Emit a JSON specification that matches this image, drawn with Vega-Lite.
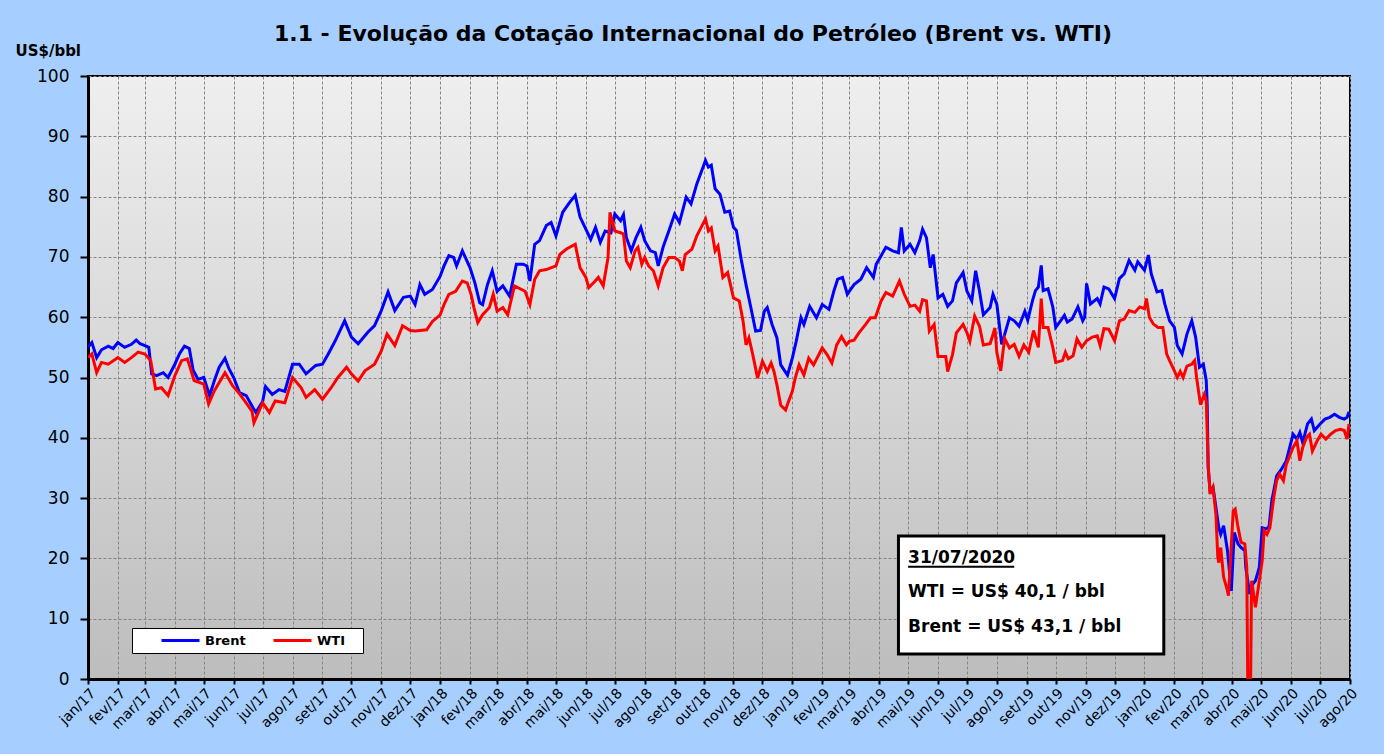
{
  "$schema": "https://vega.github.io/schema/vega-lite/v6.json",
  "width": 1262,
  "height": 603,
  "autosize": {"type": "none"},
  "padding": {"left": 88, "top": 76, "right": 34, "bottom": 75},
  "background": "#A6CFFF",
  "title": {
    "text": "1.1 - Evolução da Cotação Internacional do Petróleo (Brent vs. WTI)",
    "font": "DejaVu Sans",
    "fontSize": 22,
    "fontWeight": "bold",
    "color": "#000000",
    "anchor": "middle",
    "offset": -3,
    "dx": -26
  },
  "config": {
    "font": "DejaVu Sans",
    "view": {
      "stroke": "#000000",
      "strokeWidth": 2,
      "fill": {"gradient": "linear", "x1": 0, "y1": 0, "x2": 0, "y2": 1, "stops": [{"offset": 0, "color": "#EFEFEF"}, {"offset": 1, "color": "#BDBDBD"}]}
    },
    "locale": {
      "time": {
        "dateTime": "%A, %e de %B de %Y. %X",
        "date": "%d/%m/%Y",
        "time": "%H:%M:%S",
        "periods": ["AM", "PM"],
        "days": ["Domingo", "Segunda", "Terça", "Quarta", "Quinta", "Sexta", "Sábado"],
        "shortDays": ["Dom", "Seg", "Ter", "Qua", "Qui", "Sex", "Sáb"],
        "months": ["Janeiro", "Fevereiro", "Março", "Abril", "Maio", "Junho", "Julho", "Agosto", "Setembro", "Outubro", "Novembro", "Dezembro"],
        "shortMonths": ["jan", "fev", "mar", "abr", "mai", "jun", "jul", "ago", "set", "out", "nov", "dez"]
      }
    },
    "axis": {
      "gridColor": "#858585",
      "gridDash": [3, 2],
      "gridWidth": 1,
      "domainColor": "#000000",
      "domainWidth": 3,
      "tickColor": "#000000",
      "tickWidth": 2,
      "labelColor": "#000000",
      "labelFont": "DejaVu Sans"
    },
    "axisX": {
      "title": null,
      "tickCount": {"interval": "month", "step": 1},
      "format": "%b/%y",
      "formatType": "utc",
      "labelAngle": -45,
      "labelAlign": "right",
      "labelBaseline": "top",
      "labelFontSize": 14,
      "labelOverlap": false,
      "labelFlush": false,
      "labelPadding": 2,
      "tickSize": 5,
      "grid": true
    },
    "axisY": {
      "tickCount": 20,
      "titleAngle": 0,
      "titleAlign": "left",
      "titleBaseline": "alphabetic",
      "titleX": -73,
      "titleY": -21,
      "titleFontSize": 15,
      "titleFontWeight": "bold",
      "titleColor": "#000000",
      "labelFontSize": 17,
      "labelPadding": 11,
      "labelOverlap": false,
      "tickSize": 8,
      "grid": true
    }
  },
  "layer": [
    {
      "data": {"values": [{}]},
      "mark": {"type": "rect", "fill": "#FFFFFF", "stroke": "#000000", "strokeWidth": 3},
      "encoding": {
        "x": {"datum": {"year": 2019, "month": 4, "date": 21, "utc": true}, "type": "temporal"},
        "x2": {"datum": {"year": 2020, "month": 1, "date": 21, "utc": true}},
        "y": {"datum": 23.7, "type": "quantitative"},
        "y2": {"datum": 4.15}
      }
    },
    {
      "data": {"values": [{}]},
      "mark": {"type": "text", "text": "31/07/2020", "fontSize": 17, "fontWeight": "bold", "align": "left", "baseline": "alphabetic", "color": "#000000"},
      "encoding": {
        "x": {"datum": {"year": 2019, "month": 5, "date": 1, "utc": true}, "type": "temporal"},
        "y": {"datum": 19.2, "type": "quantitative"}
      }
    },
    {
      "data": {"values": [{}]},
      "mark": {"type": "rule", "strokeWidth": 2, "color": "#000000"},
      "encoding": {
        "x": {"datum": {"year": 2019, "month": 5, "date": 1, "utc": true}, "type": "temporal"},
        "x2": {"datum": {"year": 2019, "month": 8, "date": 19, "utc": true}},
        "y": {"datum": 18.6, "type": "quantitative"}
      }
    },
    {
      "data": {"values": [{}]},
      "mark": {"type": "text", "text": "WTI = US$ 40,1 / bbl", "fontSize": 17, "fontWeight": "bold", "align": "left", "baseline": "alphabetic", "color": "#000000"},
      "encoding": {
        "x": {"datum": {"year": 2019, "month": 5, "date": 1, "utc": true}, "type": "temporal"},
        "y": {"datum": 13.6, "type": "quantitative"}
      }
    },
    {
      "data": {"values": [{}]},
      "mark": {"type": "text", "text": "Brent = US$ 43,1 / bbl", "fontSize": 17, "fontWeight": "bold", "align": "left", "baseline": "alphabetic", "color": "#000000"},
      "encoding": {
        "x": {"datum": {"year": 2019, "month": 5, "date": 1, "utc": true}, "type": "temporal"},
        "y": {"datum": 7.8, "type": "quantitative"}
      }
    },
    {
      "data": {"values": [
        {"date":"2017-01-01","series":"Brent","price":55.0},{"date":"2017-01-05","series":"Brent","price":55.8},{"date":"2017-01-10","series":"Brent","price":53.3},{"date":"2017-01-15","series":"Brent","price":54.6},{"date":"2017-01-22","series":"Brent","price":55.2},{"date":"2017-01-27","series":"Brent","price":54.8},
        {"date":"2017-02-01","series":"Brent","price":55.8},{"date":"2017-02-08","series":"Brent","price":55.0},{"date":"2017-02-15","series":"Brent","price":55.5},{"date":"2017-02-20","series":"Brent","price":56.2},{"date":"2017-02-24","series":"Brent","price":55.6},
        {"date":"2017-03-01","series":"Brent","price":55.3},{"date":"2017-03-05","series":"Brent","price":55.0},{"date":"2017-03-08","series":"Brent","price":50.6},{"date":"2017-03-13","series":"Brent","price":50.3},{"date":"2017-03-20","series":"Brent","price":50.8},{"date":"2017-03-25","series":"Brent","price":50.0},
        {"date":"2017-04-01","series":"Brent","price":52.2},{"date":"2017-04-06","series":"Brent","price":54.0},{"date":"2017-04-11","series":"Brent","price":55.2},{"date":"2017-04-16","series":"Brent","price":54.8},{"date":"2017-04-20","series":"Brent","price":51.2},{"date":"2017-04-25","series":"Brent","price":49.7},
        {"date":"2017-05-01","series":"Brent","price":50.0},{"date":"2017-05-07","series":"Brent","price":47.0},{"date":"2017-05-12","series":"Brent","price":49.5},{"date":"2017-05-17","series":"Brent","price":51.7},{"date":"2017-05-23","series":"Brent","price":53.2},{"date":"2017-05-27","series":"Brent","price":51.5},
        {"date":"2017-06-01","series":"Brent","price":50.0},{"date":"2017-06-07","series":"Brent","price":47.5},{"date":"2017-06-14","series":"Brent","price":47.0},{"date":"2017-06-21","series":"Brent","price":45.0},{"date":"2017-06-24","series":"Brent","price":44.2},
        {"date":"2017-07-01","series":"Brent","price":46.0},{"date":"2017-07-04","series":"Brent","price":48.5},{"date":"2017-07-11","series":"Brent","price":47.2},{"date":"2017-07-18","series":"Brent","price":48.0},{"date":"2017-07-24","series":"Brent","price":47.7},
        {"date":"2017-08-01","series":"Brent","price":52.2},{"date":"2017-08-08","series":"Brent","price":52.2},{"date":"2017-08-15","series":"Brent","price":50.6},{"date":"2017-08-25","series":"Brent","price":52.0},
        {"date":"2017-09-01","series":"Brent","price":52.2},{"date":"2017-09-07","series":"Brent","price":53.9},{"date":"2017-09-14","series":"Brent","price":56.0},{"date":"2017-09-24","series":"Brent","price":59.4},
        {"date":"2017-10-01","series":"Brent","price":56.7},{"date":"2017-10-08","series":"Brent","price":55.6},{"date":"2017-10-18","series":"Brent","price":57.5},{"date":"2017-10-25","series":"Brent","price":58.6},
        {"date":"2017-11-01","series":"Brent","price":61.1},{"date":"2017-11-08","series":"Brent","price":64.2},{"date":"2017-11-15","series":"Brent","price":61.1},{"date":"2017-11-24","series":"Brent","price":63.3},
        {"date":"2017-12-01","series":"Brent","price":63.5},{"date":"2017-12-06","series":"Brent","price":62.1},{"date":"2017-12-11","series":"Brent","price":65.4},{"date":"2017-12-16","series":"Brent","price":63.8},{"date":"2017-12-24","series":"Brent","price":64.6},
        {"date":"2018-01-01","series":"Brent","price":66.8},{"date":"2018-01-05","series":"Brent","price":68.5},{"date":"2018-01-10","series":"Brent","price":70.2},{"date":"2018-01-15","series":"Brent","price":69.9},{"date":"2018-01-18","series":"Brent","price":68.5},{"date":"2018-01-24","series":"Brent","price":71.0},
        {"date":"2018-02-01","series":"Brent","price":68.2},{"date":"2018-02-06","series":"Brent","price":65.7},{"date":"2018-02-11","series":"Brent","price":62.4},{"date":"2018-02-14","series":"Brent","price":62.1},{"date":"2018-02-19","series":"Brent","price":65.4},{"date":"2018-02-24","series":"Brent","price":67.7},
        {"date":"2018-03-01","series":"Brent","price":64.3},{"date":"2018-03-07","series":"Brent","price":65.2},{"date":"2018-03-14","series":"Brent","price":63.5},{"date":"2018-03-21","series":"Brent","price":68.8},{"date":"2018-03-28","series":"Brent","price":68.8},
        {"date":"2018-04-01","series":"Brent","price":68.5},{"date":"2018-04-04","series":"Brent","price":66.0},{"date":"2018-04-09","series":"Brent","price":72.1},{"date":"2018-04-14","series":"Brent","price":72.7},{"date":"2018-04-21","series":"Brent","price":75.2},{"date":"2018-04-26","series":"Brent","price":75.7},
        {"date":"2018-05-01","series":"Brent","price":73.5},{"date":"2018-05-08","series":"Brent","price":77.4},{"date":"2018-05-15","series":"Brent","price":79.0},{"date":"2018-05-21","series":"Brent","price":80.2},{"date":"2018-05-26","series":"Brent","price":76.6},
        {"date":"2018-06-01","series":"Brent","price":74.6},{"date":"2018-06-06","series":"Brent","price":72.9},{"date":"2018-06-11","series":"Brent","price":74.9},{"date":"2018-06-16","series":"Brent","price":72.4},{"date":"2018-06-21","series":"Brent","price":74.3},{"date":"2018-06-27","series":"Brent","price":74.0},
        {"date":"2018-07-01","series":"Brent","price":77.1},{"date":"2018-07-07","series":"Brent","price":76.0},{"date":"2018-07-10","series":"Brent","price":77.0},{"date":"2018-07-13","series":"Brent","price":73.2},{"date":"2018-07-18","series":"Brent","price":71.0},{"date":"2018-07-23","series":"Brent","price":73.2},{"date":"2018-07-28","series":"Brent","price":74.9},
        {"date":"2018-08-01","series":"Brent","price":72.7},{"date":"2018-08-07","series":"Brent","price":71.0},{"date":"2018-08-12","series":"Brent","price":70.7},{"date":"2018-08-15","series":"Brent","price":68.5},{"date":"2018-08-20","series":"Brent","price":71.6},{"date":"2018-08-26","series":"Brent","price":74.3},
        {"date":"2018-09-01","series":"Brent","price":77.1},{"date":"2018-09-06","series":"Brent","price":75.7},{"date":"2018-09-13","series":"Brent","price":79.9},{"date":"2018-09-18","series":"Brent","price":78.8},{"date":"2018-09-24","series":"Brent","price":82.1},
        {"date":"2018-10-03","series":"Brent","price":86.0},{"date":"2018-10-06","series":"Brent","price":84.9},{"date":"2018-10-09","series":"Brent","price":85.2},{"date":"2018-10-13","series":"Brent","price":81.3},{"date":"2018-10-18","series":"Brent","price":80.4},{"date":"2018-10-23","series":"Brent","price":77.4},{"date":"2018-10-28","series":"Brent","price":77.6},
        {"date":"2018-11-01","series":"Brent","price":74.9},{"date":"2018-11-04","series":"Brent","price":74.4},{"date":"2018-11-09","series":"Brent","price":69.6},{"date":"2018-11-14","series":"Brent","price":65.4},{"date":"2018-11-19","series":"Brent","price":61.6},{"date":"2018-11-24","series":"Brent","price":57.7},{"date":"2018-11-29","series":"Brent","price":57.8},
        {"date":"2018-12-03","series":"Brent","price":61.0},{"date":"2018-12-06","series":"Brent","price":61.6},{"date":"2018-12-11","series":"Brent","price":58.8},{"date":"2018-12-16","series":"Brent","price":56.6},{"date":"2018-12-20","series":"Brent","price":52.1},{"date":"2018-12-27","series":"Brent","price":50.4},
        {"date":"2019-01-01","series":"Brent","price":53.2},{"date":"2019-01-05","series":"Brent","price":56.0},{"date":"2019-01-10","series":"Brent","price":59.9},{"date":"2019-01-13","series":"Brent","price":58.8},{"date":"2019-01-19","series":"Brent","price":61.8},{"date":"2019-01-26","series":"Brent","price":59.9},
        {"date":"2019-02-01","series":"Brent","price":62.1},{"date":"2019-02-08","series":"Brent","price":61.3},{"date":"2019-02-13","series":"Brent","price":64.3},{"date":"2019-02-17","series":"Brent","price":66.3},{"date":"2019-02-22","series":"Brent","price":66.6},{"date":"2019-02-27","series":"Brent","price":63.8},
        {"date":"2019-03-01","series":"Brent","price":64.3},{"date":"2019-03-06","series":"Brent","price":65.4},{"date":"2019-03-13","series":"Brent","price":66.3},{"date":"2019-03-19","series":"Brent","price":68.2},{"date":"2019-03-26","series":"Brent","price":66.6},{"date":"2019-03-29","series":"Brent","price":68.8},
        {"date":"2019-04-03","series":"Brent","price":70.2},{"date":"2019-04-08","series":"Brent","price":71.6},{"date":"2019-04-15","series":"Brent","price":71.0},{"date":"2019-04-21","series":"Brent","price":70.7},{"date":"2019-04-24","series":"Brent","price":74.9},{"date":"2019-04-27","series":"Brent","price":71.0},
        {"date":"2019-05-03","series":"Brent","price":72.1},{"date":"2019-05-08","series":"Brent","price":70.7},{"date":"2019-05-13","series":"Brent","price":72.7},{"date":"2019-05-16","series":"Brent","price":74.6},{"date":"2019-05-20","series":"Brent","price":73.2},{"date":"2019-05-24","series":"Brent","price":68.2},{"date":"2019-05-27","series":"Brent","price":70.4},
        {"date":"2019-06-01","series":"Brent","price":63.2},{"date":"2019-06-06","series":"Brent","price":63.8},{"date":"2019-06-11","series":"Brent","price":61.8},{"date":"2019-06-16","series":"Brent","price":62.7},{"date":"2019-06-20","series":"Brent","price":65.7},{"date":"2019-06-27","series":"Brent","price":67.4},
        {"date":"2019-07-01","series":"Brent","price":64.3},{"date":"2019-07-06","series":"Brent","price":62.7},{"date":"2019-07-10","series":"Brent","price":67.7},{"date":"2019-07-14","series":"Brent","price":64.3},{"date":"2019-07-18","series":"Brent","price":60.4},{"date":"2019-07-25","series":"Brent","price":61.6},{"date":"2019-07-28","series":"Brent","price":63.8},
        {"date":"2019-08-01","series":"Brent","price":62.1},{"date":"2019-08-06","series":"Brent","price":55.5},{"date":"2019-08-09","series":"Brent","price":57.1},{"date":"2019-08-14","series":"Brent","price":59.9},{"date":"2019-08-19","series":"Brent","price":59.4},{"date":"2019-08-24","series":"Brent","price":58.5},{"date":"2019-08-30","series":"Brent","price":61.0},
        {"date":"2019-09-02","series":"Brent","price":59.5},{"date":"2019-09-07","series":"Brent","price":62.8},{"date":"2019-09-10","series":"Brent","price":64.4},{"date":"2019-09-13","series":"Brent","price":65.0},{"date":"2019-09-16","series":"Brent","price":68.6},{"date":"2019-09-18","series":"Brent","price":64.4},{"date":"2019-09-23","series":"Brent","price":64.7},{"date":"2019-09-28","series":"Brent","price":61.7},
        {"date":"2019-10-01","series":"Brent","price":58.3},{"date":"2019-10-06","series":"Brent","price":59.4},{"date":"2019-10-10","series":"Brent","price":60.3},{"date":"2019-10-13","series":"Brent","price":59.2},{"date":"2019-10-18","series":"Brent","price":59.7},{"date":"2019-10-24","series":"Brent","price":61.7},{"date":"2019-10-29","series":"Brent","price":59.4},{"date":"2019-10-31","series":"Brent","price":60.0},
        {"date":"2019-11-02","series":"Brent","price":65.6},{"date":"2019-11-06","series":"Brent","price":62.2},{"date":"2019-11-13","series":"Brent","price":63.1},{"date":"2019-11-16","series":"Brent","price":62.2},{"date":"2019-11-20","series":"Brent","price":65.0},{"date":"2019-11-25","series":"Brent","price":64.7},
        {"date":"2019-12-01","series":"Brent","price":63.1},{"date":"2019-12-06","series":"Brent","price":66.4},{"date":"2019-12-11","series":"Brent","price":67.2},{"date":"2019-12-16","series":"Brent","price":69.4},{"date":"2019-12-22","series":"Brent","price":67.8},{"date":"2019-12-25","series":"Brent","price":69.2},
        {"date":"2020-01-01","series":"Brent","price":67.8},{"date":"2020-01-05","series":"Brent","price":70.3},{"date":"2020-01-08","series":"Brent","price":67.2},{"date":"2020-01-14","series":"Brent","price":64.2},{"date":"2020-01-19","series":"Brent","price":64.4},{"date":"2020-01-22","series":"Brent","price":62.2},{"date":"2020-01-27","series":"Brent","price":59.4},
        {"date":"2020-02-01","series":"Brent","price":58.3},{"date":"2020-02-04","series":"Brent","price":55.3},{"date":"2020-02-09","series":"Brent","price":53.9},{"date":"2020-02-14","series":"Brent","price":57.2},{"date":"2020-02-19","series":"Brent","price":59.4},{"date":"2020-02-23","series":"Brent","price":56.7},{"date":"2020-02-27","series":"Brent","price":51.7},
        {"date":"2020-03-02","series":"Brent","price":52.2},{"date":"2020-03-05","series":"Brent","price":49.5},{"date":"2020-03-06","series":"Brent","price":45.5},{"date":"2020-03-07","series":"Brent","price":35.0},{"date":"2020-03-09","series":"Brent","price":31.2},{"date":"2020-03-12","series":"Brent","price":31.8},{"date":"2020-03-15","series":"Brent","price":28.5},{"date":"2020-03-18","series":"Brent","price":25.1},{"date":"2020-03-20","series":"Brent","price":24.0},{"date":"2020-03-23","series":"Brent","price":25.4},{"date":"2020-03-27","series":"Brent","price":21.3},{"date":"2020-03-31","series":"Brent","price":14.6},
        {"date":"2020-04-03","series":"Brent","price":24.3},{"date":"2020-04-07","series":"Brent","price":22.4},{"date":"2020-04-10","series":"Brent","price":21.8},{"date":"2020-04-14","series":"Brent","price":21.3},{"date":"2020-04-15","series":"Brent","price":18.5},{"date":"2020-04-19","series":"Brent","price":14.1},{"date":"2020-04-22","series":"Brent","price":15.7},{"date":"2020-04-25","series":"Brent","price":16.3},{"date":"2020-04-29","series":"Brent","price":18.5},
        {"date":"2020-05-02","series":"Brent","price":25.1},{"date":"2020-05-06","series":"Brent","price":24.9},{"date":"2020-05-09","series":"Brent","price":25.2},{"date":"2020-05-12","series":"Brent","price":29.6},{"date":"2020-05-17","series":"Brent","price":33.7},{"date":"2020-05-22","series":"Brent","price":34.8},{"date":"2020-05-27","series":"Brent","price":36.2},
        {"date":"2020-06-03","series":"Brent","price":40.6},{"date":"2020-06-07","series":"Brent","price":39.8},{"date":"2020-06-10","series":"Brent","price":40.9},{"date":"2020-06-13","series":"Brent","price":39.2},{"date":"2020-06-18","series":"Brent","price":42.3},{"date":"2020-06-22","series":"Brent","price":43.1},{"date":"2020-06-25","series":"Brent","price":41.2},
        {"date":"2020-07-01","series":"Brent","price":42.3},{"date":"2020-07-06","series":"Brent","price":43.1},{"date":"2020-07-11","series":"Brent","price":43.4},{"date":"2020-07-16","series":"Brent","price":43.9},{"date":"2020-07-21","series":"Brent","price":43.4},{"date":"2020-07-26","series":"Brent","price":43.1},{"date":"2020-07-29","series":"Brent","price":43.4},{"date":"2020-07-31","series":"Brent","price":44.3},

        {"date":"2017-01-01","series":"WTI","price":53.3},{"date":"2017-01-05","series":"WTI","price":53.9},{"date":"2017-01-10","series":"WTI","price":50.8},{"date":"2017-01-15","series":"WTI","price":52.5},{"date":"2017-01-22","series":"WTI","price":52.2},
        {"date":"2017-02-01","series":"WTI","price":53.3},{"date":"2017-02-08","series":"WTI","price":52.5},{"date":"2017-02-15","series":"WTI","price":53.3},{"date":"2017-02-22","series":"WTI","price":54.2},
        {"date":"2017-03-01","series":"WTI","price":53.9},{"date":"2017-03-07","series":"WTI","price":52.8},{"date":"2017-03-12","series":"WTI","price":48.1},{"date":"2017-03-18","series":"WTI","price":48.3},{"date":"2017-03-25","series":"WTI","price":47.0},
        {"date":"2017-04-01","series":"WTI","price":50.3},{"date":"2017-04-08","series":"WTI","price":52.8},{"date":"2017-04-14","series":"WTI","price":53.1},{"date":"2017-04-21","series":"WTI","price":49.5},
        {"date":"2017-05-01","series":"WTI","price":48.9},{"date":"2017-05-06","series":"WTI","price":45.6},{"date":"2017-05-12","series":"WTI","price":47.8},{"date":"2017-05-23","series":"WTI","price":50.8},{"date":"2017-05-31","series":"WTI","price":48.6},
        {"date":"2017-06-06","series":"WTI","price":47.5},{"date":"2017-06-13","series":"WTI","price":46.0},{"date":"2017-06-20","series":"WTI","price":44.4},{"date":"2017-06-22","series":"WTI","price":42.5},
        {"date":"2017-07-01","series":"WTI","price":45.8},{"date":"2017-07-08","series":"WTI","price":44.2},{"date":"2017-07-14","series":"WTI","price":46.1},{"date":"2017-07-24","series":"WTI","price":45.8},
        {"date":"2017-08-01","series":"WTI","price":50.0},{"date":"2017-08-10","series":"WTI","price":48.3},{"date":"2017-08-15","series":"WTI","price":46.7},{"date":"2017-08-24","series":"WTI","price":48.0},
        {"date":"2017-09-01","series":"WTI","price":46.4},{"date":"2017-09-10","series":"WTI","price":48.3},{"date":"2017-09-17","series":"WTI","price":50.0},{"date":"2017-09-26","series":"WTI","price":51.7},
        {"date":"2017-10-01","series":"WTI","price":50.6},{"date":"2017-10-08","series":"WTI","price":49.4},{"date":"2017-10-15","series":"WTI","price":51.1},{"date":"2017-10-25","series":"WTI","price":52.2},
        {"date":"2017-11-01","series":"WTI","price":54.4},{"date":"2017-11-07","series":"WTI","price":57.2},{"date":"2017-11-15","series":"WTI","price":55.3},{"date":"2017-11-23","series":"WTI","price":58.6},
        {"date":"2017-12-01","series":"WTI","price":57.8},{"date":"2017-12-06","series":"WTI","price":57.7},{"date":"2017-12-18","series":"WTI","price":57.9},{"date":"2017-12-24","series":"WTI","price":59.3},
        {"date":"2018-01-01","series":"WTI","price":60.4},{"date":"2018-01-05","series":"WTI","price":62.1},{"date":"2018-01-10","series":"WTI","price":63.8},{"date":"2018-01-17","series":"WTI","price":64.3},{"date":"2018-01-24","series":"WTI","price":66.0},{"date":"2018-01-29","series":"WTI","price":65.7},
        {"date":"2018-02-02","series":"WTI","price":63.8},{"date":"2018-02-05","series":"WTI","price":61.6},{"date":"2018-02-09","series":"WTI","price":59.1},{"date":"2018-02-14","series":"WTI","price":60.4},{"date":"2018-02-21","series":"WTI","price":61.6},{"date":"2018-02-25","series":"WTI","price":63.8},
        {"date":"2018-03-01","series":"WTI","price":61.0},{"date":"2018-03-07","series":"WTI","price":61.6},{"date":"2018-03-12","series":"WTI","price":60.4},{"date":"2018-03-19","series":"WTI","price":65.2},{"date":"2018-03-30","series":"WTI","price":64.3},
        {"date":"2018-04-04","series":"WTI","price":62.1},{"date":"2018-04-09","series":"WTI","price":66.3},{"date":"2018-04-14","series":"WTI","price":67.7},{"date":"2018-04-21","series":"WTI","price":67.9},
        {"date":"2018-05-01","series":"WTI","price":68.5},{"date":"2018-05-05","series":"WTI","price":70.4},{"date":"2018-05-12","series":"WTI","price":71.3},{"date":"2018-05-21","series":"WTI","price":72.1},{"date":"2018-05-26","series":"WTI","price":68.2},
        {"date":"2018-06-01","series":"WTI","price":66.6},{"date":"2018-06-04","series":"WTI","price":64.9},{"date":"2018-06-09","series":"WTI","price":65.7},{"date":"2018-06-14","series":"WTI","price":66.6},{"date":"2018-06-19","series":"WTI","price":65.2},{"date":"2018-06-24","series":"WTI","price":69.9},{"date":"2018-06-26","series":"WTI","price":77.4},
        {"date":"2018-07-01","series":"WTI","price":74.3},{"date":"2018-07-07","series":"WTI","price":74.0},{"date":"2018-07-10","series":"WTI","price":73.8},{"date":"2018-07-13","series":"WTI","price":69.3},{"date":"2018-07-17","series":"WTI","price":68.2},{"date":"2018-07-22","series":"WTI","price":71.0},{"date":"2018-07-25","series":"WTI","price":71.6},{"date":"2018-07-29","series":"WTI","price":68.8},
        {"date":"2018-08-01","series":"WTI","price":69.9},{"date":"2018-08-05","series":"WTI","price":68.5},{"date":"2018-08-10","series":"WTI","price":67.7},{"date":"2018-08-15","series":"WTI","price":65.2},{"date":"2018-08-20","series":"WTI","price":68.2},{"date":"2018-08-26","series":"WTI","price":69.9},
        {"date":"2018-09-01","series":"WTI","price":69.9},{"date":"2018-09-06","series":"WTI","price":69.3},{"date":"2018-09-09","series":"WTI","price":67.7},{"date":"2018-09-12","series":"WTI","price":70.4},{"date":"2018-09-19","series":"WTI","price":71.3},{"date":"2018-09-24","series":"WTI","price":73.5},
        {"date":"2018-10-03","series":"WTI","price":76.3},{"date":"2018-10-06","series":"WTI","price":74.3},{"date":"2018-10-09","series":"WTI","price":74.8},{"date":"2018-10-13","series":"WTI","price":71.0},{"date":"2018-10-16","series":"WTI","price":71.8},{"date":"2018-10-21","series":"WTI","price":66.6},{"date":"2018-10-26","series":"WTI","price":67.4},
        {"date":"2018-11-01","series":"WTI","price":63.2},{"date":"2018-11-07","series":"WTI","price":62.7},{"date":"2018-11-11","series":"WTI","price":59.3},{"date":"2018-11-14","series":"WTI","price":55.4},{"date":"2018-11-17","series":"WTI","price":56.6},{"date":"2018-11-21","series":"WTI","price":53.8},{"date":"2018-11-26","series":"WTI","price":49.9},
        {"date":"2018-12-01","series":"WTI","price":52.7},{"date":"2018-12-06","series":"WTI","price":51.0},{"date":"2018-12-10","series":"WTI","price":52.4},{"date":"2018-12-13","series":"WTI","price":51.0},{"date":"2018-12-16","series":"WTI","price":48.8},{"date":"2018-12-20","series":"WTI","price":45.4},{"date":"2018-12-25","series":"WTI","price":44.6},{"date":"2018-12-28","series":"WTI","price":46.0},
        {"date":"2019-01-01","series":"WTI","price":47.7},{"date":"2019-01-04","series":"WTI","price":49.9},{"date":"2019-01-08","series":"WTI","price":52.1},{"date":"2019-01-13","series":"WTI","price":50.4},{"date":"2019-01-18","series":"WTI","price":53.2},{"date":"2019-01-23","series":"WTI","price":52.1},
        {"date":"2019-02-01","series":"WTI","price":54.9},{"date":"2019-02-06","series":"WTI","price":53.8},{"date":"2019-02-11","series":"WTI","price":52.4},{"date":"2019-02-16","series":"WTI","price":55.4},{"date":"2019-02-21","series":"WTI","price":56.8},{"date":"2019-02-26","series":"WTI","price":55.4},
        {"date":"2019-03-01","series":"WTI","price":56.0},{"date":"2019-03-06","series":"WTI","price":56.2},{"date":"2019-03-11","series":"WTI","price":57.4},{"date":"2019-03-18","series":"WTI","price":58.8},{"date":"2019-03-23","series":"WTI","price":59.9},{"date":"2019-03-28","series":"WTI","price":59.9},
        {"date":"2019-04-03","series":"WTI","price":62.7},{"date":"2019-04-08","series":"WTI","price":64.1},{"date":"2019-04-15","series":"WTI","price":63.5},{"date":"2019-04-22","series":"WTI","price":66.0},{"date":"2019-04-27","series":"WTI","price":63.8},
        {"date":"2019-05-03","series":"WTI","price":61.8},{"date":"2019-05-08","series":"WTI","price":62.0},{"date":"2019-05-13","series":"WTI","price":61.0},{"date":"2019-05-16","series":"WTI","price":62.9},{"date":"2019-05-20","series":"WTI","price":62.7},{"date":"2019-05-23","series":"WTI","price":57.7},{"date":"2019-05-28","series":"WTI","price":58.8},
        {"date":"2019-06-01","series":"WTI","price":53.5},{"date":"2019-06-09","series":"WTI","price":53.5},{"date":"2019-06-11","series":"WTI","price":51.0},{"date":"2019-06-16","series":"WTI","price":53.8},{"date":"2019-06-20","series":"WTI","price":57.4},{"date":"2019-06-27","series":"WTI","price":58.8},
        {"date":"2019-07-01","series":"WTI","price":57.4},{"date":"2019-07-04","series":"WTI","price":56.0},{"date":"2019-07-09","series":"WTI","price":60.2},{"date":"2019-07-14","series":"WTI","price":58.5},{"date":"2019-07-18","series":"WTI","price":55.4},{"date":"2019-07-25","series":"WTI","price":55.6},{"date":"2019-07-30","series":"WTI","price":58.2},
        {"date":"2019-08-01","series":"WTI","price":54.1},{"date":"2019-08-05","series":"WTI","price":51.1},{"date":"2019-08-09","series":"WTI","price":56.5},{"date":"2019-08-14","series":"WTI","price":54.9},{"date":"2019-08-19","series":"WTI","price":55.5},{"date":"2019-08-24","series":"WTI","price":53.5},{"date":"2019-08-29","series":"WTI","price":55.4},
        {"date":"2019-09-03","series":"WTI","price":54.2},{"date":"2019-09-08","series":"WTI","price":57.8},{"date":"2019-09-13","series":"WTI","price":55.0},{"date":"2019-09-16","series":"WTI","price":63.1},{"date":"2019-09-18","series":"WTI","price":58.3},{"date":"2019-09-23","series":"WTI","price":58.3},{"date":"2019-09-28","series":"WTI","price":55.0},
        {"date":"2019-10-01","series":"WTI","price":52.5},{"date":"2019-10-08","series":"WTI","price":52.8},{"date":"2019-10-11","series":"WTI","price":54.2},{"date":"2019-10-14","series":"WTI","price":53.1},{"date":"2019-10-19","series":"WTI","price":53.6},{"date":"2019-10-23","series":"WTI","price":56.4},{"date":"2019-10-28","series":"WTI","price":55.0},
        {"date":"2019-11-02","series":"WTI","price":56.1},{"date":"2019-11-08","series":"WTI","price":56.7},{"date":"2019-11-13","series":"WTI","price":56.9},{"date":"2019-11-16","series":"WTI","price":55.3},{"date":"2019-11-20","series":"WTI","price":58.1},{"date":"2019-11-25","series":"WTI","price":58.0},
        {"date":"2019-12-01","series":"WTI","price":56.1},{"date":"2019-12-06","series":"WTI","price":59.4},{"date":"2019-12-11","series":"WTI","price":59.7},{"date":"2019-12-16","series":"WTI","price":61.1},{"date":"2019-12-22","series":"WTI","price":60.8},{"date":"2019-12-27","series":"WTI","price":61.7},
        {"date":"2020-01-01","series":"WTI","price":61.4},{"date":"2020-01-03","series":"WTI","price":63.1},{"date":"2020-01-06","series":"WTI","price":60.0},{"date":"2020-01-10","series":"WTI","price":58.9},{"date":"2020-01-15","series":"WTI","price":58.3},{"date":"2020-01-20","series":"WTI","price":58.3},{"date":"2020-01-24","series":"WTI","price":53.9},{"date":"2020-01-27","series":"WTI","price":52.8},
        {"date":"2020-02-01","series":"WTI","price":51.1},{"date":"2020-02-04","series":"WTI","price":50.0},{"date":"2020-02-07","series":"WTI","price":51.0},{"date":"2020-02-10","series":"WTI","price":50.0},{"date":"2020-02-14","series":"WTI","price":51.9},{"date":"2020-02-19","series":"WTI","price":52.2},{"date":"2020-02-22","series":"WTI","price":52.8},{"date":"2020-02-24","series":"WTI","price":50.0},{"date":"2020-02-28","series":"WTI","price":45.5},
        {"date":"2020-03-03","series":"WTI","price":47.2},{"date":"2020-03-05","series":"WTI","price":46.1},{"date":"2020-03-07","series":"WTI","price":35.6},{"date":"2020-03-09","series":"WTI","price":30.7},{"date":"2020-03-12","series":"WTI","price":31.8},{"date":"2020-03-15","series":"WTI","price":27.3},{"date":"2020-03-17","series":"WTI","price":20.2},{"date":"2020-03-18","series":"WTI","price":19.3},{"date":"2020-03-20","series":"WTI","price":21.8},{"date":"2020-03-23","series":"WTI","price":16.9},{"date":"2020-03-27","series":"WTI","price":14.6},{"date":"2020-03-28","series":"WTI","price":13.8},
        {"date":"2020-04-02","series":"WTI","price":27.9},{"date":"2020-04-04","series":"WTI","price":28.2},{"date":"2020-04-07","series":"WTI","price":25.1},{"date":"2020-04-10","series":"WTI","price":22.7},{"date":"2020-04-14","series":"WTI","price":22.4},{"date":"2020-04-16","series":"WTI","price":18.5},{"date":"2020-04-17","series":"WTI","price":0},{"date":"2020-04-20","series":"WTI","price":0},{"date":"2020-04-21","series":"WTI","price":16.3},{"date":"2020-04-25","series":"WTI","price":11.9},{"date":"2020-04-28","series":"WTI","price":15.2},
        {"date":"2020-05-02","series":"WTI","price":19.6},{"date":"2020-05-04","series":"WTI","price":24.6},{"date":"2020-05-07","series":"WTI","price":24.0},{"date":"2020-05-10","series":"WTI","price":25.1},{"date":"2020-05-14","series":"WTI","price":30.1},{"date":"2020-05-17","series":"WTI","price":32.9},{"date":"2020-05-20","series":"WTI","price":34.0},{"date":"2020-05-24","series":"WTI","price":32.9},{"date":"2020-05-27","series":"WTI","price":35.6},
        {"date":"2020-06-03","series":"WTI","price":38.4},{"date":"2020-06-07","series":"WTI","price":39.5},{"date":"2020-06-10","series":"WTI","price":36.2},{"date":"2020-06-13","series":"WTI","price":38.4},{"date":"2020-06-17","series":"WTI","price":40.1},{"date":"2020-06-20","series":"WTI","price":40.6},{"date":"2020-06-23","series":"WTI","price":37.8},{"date":"2020-06-28","series":"WTI","price":39.5},
        {"date":"2020-07-02","series":"WTI","price":40.6},{"date":"2020-07-07","series":"WTI","price":39.8},{"date":"2020-07-12","series":"WTI","price":40.6},{"date":"2020-07-17","series":"WTI","price":41.2},{"date":"2020-07-22","series":"WTI","price":41.4},{"date":"2020-07-26","series":"WTI","price":41.2},{"date":"2020-07-29","series":"WTI","price":39.8},{"date":"2020-07-31","series":"WTI","price":42.3}
      ]},
      "mark": {"type": "line", "strokeWidth": 3, "clip": true},
      "encoding": {
        "x": {
          "field": "date",
          "type": "temporal",
          "scale": {"type": "utc", "domain": [{"year": 2017, "month": 1, "date": 1, "utc": true}, {"year": 2020, "month": 8, "date": 1, "utc": true}], "nice": false},
          "axis": {"title": null, "format": "%b/%y", "formatType": "utc", "tickCount": {"interval": "month", "step": 1}}
        },
        "y": {
          "field": "price",
          "type": "quantitative",
          "scale": {"domain": [0, 100], "nice": false},
          "axis": {"title": "US$/bbl", "tickCount": 20, "labelOverlap": false, "values": [0, 5, 10, 15, 20, 25, 30, 35, 40, 45, 50, 55, 60, 65, 70, 75, 80, 85, 90, 95, 100]}
        },
        "color": {
          "field": "series",
          "type": "nominal",
          "scale": {"domain": ["Brent", "WTI"], "range": ["#0000FF", "#FF0000"]},
          "legend": {
            "title": " ",
            "titleOrient": "right",
            "titlePadding": 16,
            "titleFontSize": 13,
            "orient": "none",
            "legendX": 44,
            "legendY": 552,
            "direction": "horizontal",
            "fillColor": "#FFFFFF",
            "strokeColor": "#000000",
            "padding": 2,
            "clipHeight": 21,
            "symbolOffset": 26,
            "symbolType": "stroke",
            "symbolStrokeWidth": 3,
            "symbolSize": 1444,
            "labelFontSize": 13,
            "labelFontWeight": "bold",
            "labelColor": "#000000",
            "columnPadding": 0,
            "labelOffset": 4
          }
        }
      }
    }
  ]
}
